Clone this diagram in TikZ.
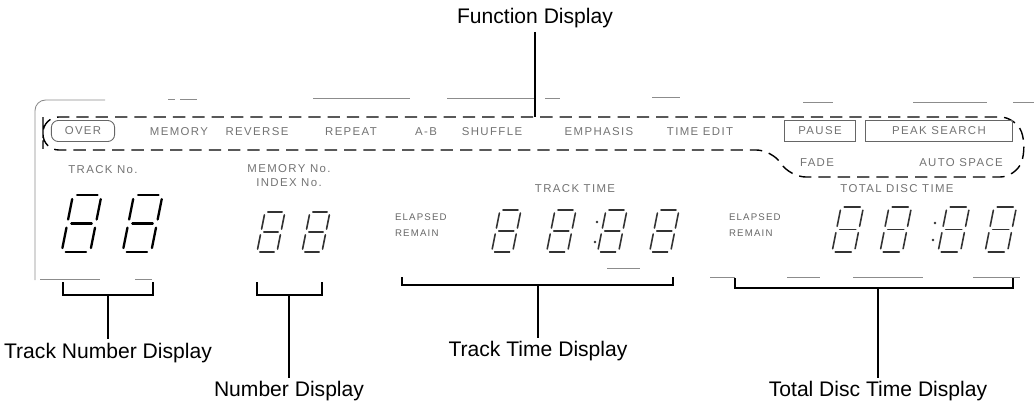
\documentclass[tikz,border=0pt]{standalone}
\usepackage{fontspec}
\setmainfont{Liberation Sans}
\newfontfamily\panelfont{Liberation Sans}[LetterSpace=12]
\usetikzlibrary{positioning}

\tikzset{
  segdigit/.pic={
    \draw (3,0) -- (18,0) (3,21) -- (18,21) (3,42) -- (18,42);
    \draw (0,3) -- (0,18) (0,24) -- (0,39) (21,3) -- (21,18) (21,24) -- (21,39);
  }
}

\begin{document}
\begin{tikzpicture}[x=0.02cm, y=-0.02cm,
  frameline/.style={black!45, line width=0.5pt},
  funcbox/.style={line width=0.8pt, dash pattern=on 7pt off 4pt, rounded corners=9pt},
  keybox/.style={draw=black!60, line width=0.5pt, minimum height=12pt, inner sep=0pt},
  panel/.style={font=\panelfont\fontsize{6.5}{7}\selectfont, text=black!55, inner sep=1pt},
  tiny/.style={font=\panelfont\fontsize{5.5}{6}\selectfont, text=black!60, inner sep=1pt},
  bigdigit/.style={line width=1.3pt, line cap=round, scale=1.36, xslant=0.2},
  digit/.style={black!80, line width=0.9pt, line cap=round, xslant=0.2},
  bracket/.style={line width=0.8pt},
  callout/.style={line width=0.8pt},
  dispname/.style={font=\fontsize{12}{14}\selectfont, inner sep=2pt}]
\useasboundingbox (0,0) rectangle (1034,402);

% display window (faint, broken)
\draw[frameline, rounded corners=6pt] (35,280) -- (35,100) -- (105,100);
\foreach \a/\b/\y in {168/175/99, 180/197/99, 313/410/98, 447/535/98, 545/560/98,
    652/680/97, 803/833/102, 913/987/102, 1013/1034/102,
    40/100/279, 135/152/279, 607/640/268,
    710/735/277, 787/820/277, 853/923/277, 973/1020/277}
  \draw[frameline] (\a,\y) -- (\b,\y);

% function area
\draw[funcbox] (43,133) |- (1016,117) -- (1027,147) -- (1016,177)
  -- (790,177) -- (772,150) -- (43,150) -- cycle;
\node[panel, keybox, rounded corners=4pt, minimum width=36pt] (over) at (83,131) {OVER};
\node[panel] (memory) at (179,132) {MEMORY};
\node[panel] (reverse) at (257,132) {REVERSE};
\node[panel] (repeat) at (351,132) {REPEAT};
\node[panel] (ab) at (426,132) {A-B};
\node[panel] (shuffle) at (492,132) {SHUFFLE};
\node[panel] (emphasis) at (599,132) {EMPHASIS};
\node[panel] (timeedit) at (700,132) {TIME EDIT};
\node[panel, keybox, minimum width=40pt] (pause) at (820,131) {PAUSE};
\node[panel, keybox, minimum width=84pt] (peak) at (939,131) {PEAK SEARCH};
\node[panel] (fade) at (817,163) {FADE};
\node[panel] (autospace) at (961,163) {AUTO SPACE};

% track number
\node[panel] (trackno) at (103,170) {TRACK No.};
\pic[bigdigit] at (73,195) {segdigit};
\pic[bigdigit] at (134,195) {segdigit};

% memory / index number
\node[panel] (memno) at (289,169) {MEMORY No.};
\node[panel, below=1pt of memno] (idxno) {INDEX No.};
\pic[digit, scale=0.95] at (265,212) {segdigit};
\pic[digit, scale=0.95] at (310,212) {segdigit};

% track time
\node[panel] (tracktime) at (575,189) {TRACK TIME};
\node[tiny, anchor=west] (tel) at (393,217) {ELAPSED};
\node[tiny, anchor=west] (trem) at (393,233) {REMAIN};
\pic[digit] at (500,210) {segdigit};
\pic[digit] at (555,210) {segdigit};
\pic[digit] at (606,210) {segdigit};
\pic[digit] at (658,210) {segdigit};
\fill[black!80] (597,222) circle (1.3) (595,242) circle (1.3);

% total disc time
\node[panel] (totaltime) at (897,189) {TOTAL DISC TIME};
\node[tiny, anchor=west] (del) at (727,217) {ELAPSED};
\node[tiny, anchor=west] (drem) at (727,233) {REMAIN};
\pic[digit, scale=1.07] at (841,207) {segdigit};
\pic[digit, scale=1.07] at (889,207) {segdigit};
\pic[digit, scale=1.07] at (947,207) {segdigit};
\pic[digit, scale=1.07] at (994,207) {segdigit};
\fill[black!80] (935,223) circle (1.3) (933,240) circle (1.3);

% callouts
\coordinate (fdtop) at (535,117);
\node[dispname, anchor=south] (fdname) at (535,32) {Function Display};
\draw[callout] (fdname) -- (fdtop);

\coordinate (tnL) at (63,282);
\coordinate (tnR) at (153,282);
\coordinate (tnM) at (108,295);
\draw[bracket] (tnL) |- (tnM) -| (tnR);
\node[dispname, below=25pt of tnM] (tnname) {Track Number Display};
\draw[callout] (tnM) -- (tnname);

\coordinate (nuL) at (257,282);
\coordinate (nuR) at (322,282);
\coordinate (nuM) at (289,295);
\draw[bracket] (nuL) |- (nuM) -| (nuR);
\node[dispname, below=47pt of nuM] (nuname) {Number Display};
\draw[callout] (nuM) -- (nuname);

\coordinate (ttL) at (402,277);
\coordinate (ttR) at (673,277);
\coordinate (ttM) at (538,285);
\draw[bracket] (ttL) |- (ttM) -| (ttR);
\node[dispname, below=30pt of ttM] (ttname) {Track Time Display};
\draw[callout] (ttM) -- (ttname);

\coordinate (tdL) at (735,278);
\coordinate (tdR) at (1013,278);
\coordinate (tdM) at (878,288);
\draw[bracket] (tdL) |- (tdM) -| (tdR);
\node[dispname, below=51pt of tdM] (tdname) {Total Disc Time Display};
\draw[callout] (tdM) -- (tdname);
\end{tikzpicture}
\end{document}
